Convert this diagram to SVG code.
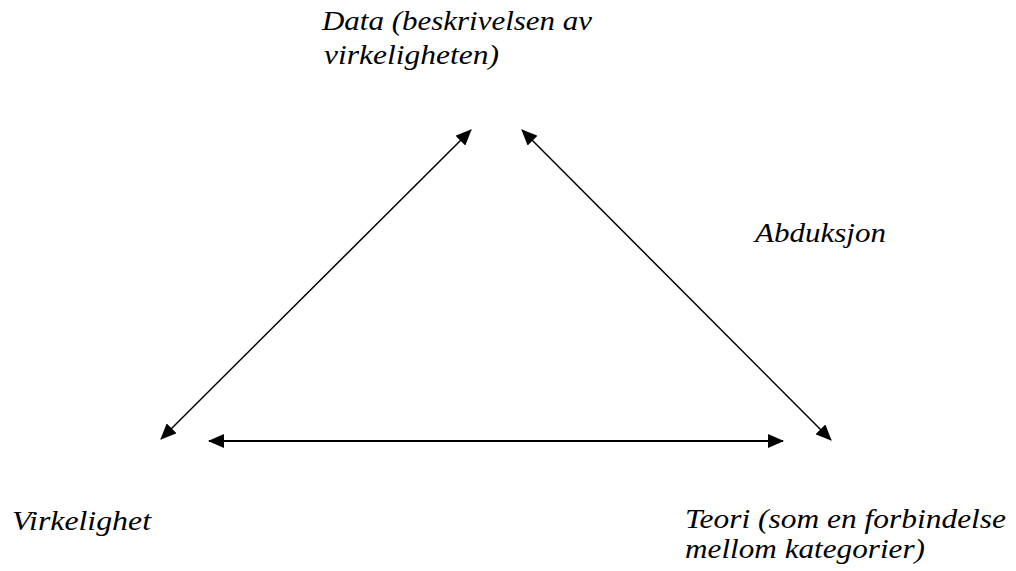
<svg xmlns="http://www.w3.org/2000/svg" width="1016" height="571" viewBox="0 0 1016 571">
  <defs>
    <marker id="ah" viewBox="0 0 16 14" markerWidth="16" markerHeight="14" refX="15" refY="7" orient="auto-start-reverse" markerUnits="userSpaceOnUse">
      <path d="M0,0 L16,7 L0,14 z" fill="#000"/>
    </marker>
    <style>
      .con { stroke: #000; fill: none; marker-start: url(#ah); marker-end: url(#ah); }
      .lbl { font-family: "Liberation Serif", "Times New Roman", serif; font-style: italic; font-size: 27px; fill: #000; }
    </style>
  </defs>
  <rect width="1016" height="571" fill="#fff"/>
  <g id="connectors">
    <line class="con" x1="161" y1="439" x2="471" y2="130" stroke-width="1.5"/>
    <line class="con" x1="522" y1="130" x2="831" y2="440" stroke-width="1.5"/>
    <line class="con" x1="209" y1="441" x2="783" y2="441" stroke-width="2"/>
  </g>
  <g id="node-data">
    <text class="lbl" x="322" y="30" textLength="270" lengthAdjust="spacingAndGlyphs">Data (beskrivelsen av</text>
    <text class="lbl" x="324" y="64" textLength="175" lengthAdjust="spacingAndGlyphs">virkeligheten)</text>
  </g>
  <g id="node-abduksjon">
    <text class="lbl" x="755" y="242" textLength="131" lengthAdjust="spacingAndGlyphs">Abduksjon</text>
  </g>
  <g id="node-virkelighet">
    <text class="lbl" x="12" y="530" textLength="139" lengthAdjust="spacingAndGlyphs">Virkelighet</text>
  </g>
  <g id="node-teori">
    <text class="lbl" x="685" y="528" textLength="321" lengthAdjust="spacingAndGlyphs">Teori (som en forbindelse</text>
    <text class="lbl" x="685" y="558" textLength="240" lengthAdjust="spacingAndGlyphs">mellom kategorier)</text>
  </g>
</svg>
